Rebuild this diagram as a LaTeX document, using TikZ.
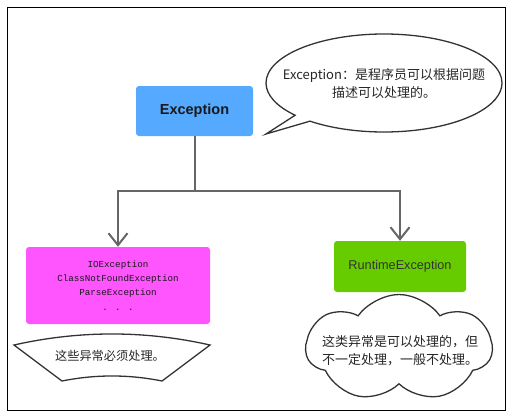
\documentclass[tikz,border=0pt]{standalone}
\usepackage{fontspec}
\setmainfont{Liberation Sans}
\newfontfamily\cjk{Noto Sans CJK SC}
\newfontfamily\monof{Liberation Mono}
\usetikzlibrary{shapes.callouts,shapes.symbols,arrows.meta}
\definecolor{exblue}{HTML}{55AAFF}
\definecolor{iomag}{HTML}{FF55FF}
\definecolor{rtgreen}{HTML}{66CC00}
\definecolor{outline}{HTML}{333333}
\definecolor{conncol}{HTML}{666666}
\begin{document}
\begin{tikzpicture}[x=1pt,y=-1pt,
  frame/.style={draw=black,line width=1pt},
  box/.style={rounded corners=3pt, inner sep=0pt, anchor=center},
  outl/.style={draw=outline, line width=1.3pt},
  conn/.style={draw=conncol, line width=2pt},
  arr/.style={-{Straight Barb[length=12pt,width=19pt,line width=2pt]}},
  cjktext/.style={font=\cjk\fontsize{13}{18}\selectfont, text=black!85}
]
\useasboundingbox (0,0) rectangle (513,416);
\draw[frame] (7,7) rectangle (505,410);

\node[box, fill=exblue, minimum width=117pt, minimum height=50pt,
  font=\bfseries\fontsize{14.5}{16}\selectfont, text=black!90] (ex) at (194.5,111) {Exception};

\node[box, fill=iomag, minimum width=184pt, minimum height=77pt,
  font=\monof\fontsize{9.2}{14.3}\selectfont, text=black!90, align=center] (io) at (118,285.5)
  {IOException\\ClassNotFoundException\\ParseException\\. . .};

\node[box, fill=rtgreen, minimum width=132pt, minimum height=51pt,
  font=\fontsize{12.7}{15}\selectfont, text=black!80] (rt) at (400,266.5) {RuntimeException};

\node[ellipse callout, outl, minimum width=236pt, minimum height=98pt,
  callout absolute pointer={(266,134)}, callout pointer arc=10] (call) at (384,83) {};
\node[cjktext, align=center] (calltxt) at (384,84) {Exception：是程序员可以根据问题\\描述可以处理的。};

\draw[outl] (14,345) .. controls (79,330.3) and (145,330.3) .. (210,345) -- (162,381)
  .. controls (128.7,374.3) and (95.3,374.3) .. (62,381) -- cycle;
\node[font=\cjk\fontsize{12.2}{16}\selectfont, text=black!85] (bantxt) at (110,356) {这些异常必须处理。};

\node[cloud, outl, cloud puffs=7, cloud puff arc=110, aspect=1.74, minimum width=186pt, minimum height=107pt, shape border rotate=10] (cl) at (399,348) {};
\node[cjktext, align=left] (cltxt) at (400,350.5) {这类异常是可以处理的，但\\不一定处理，一般不处理。};

\coordinate (j) at (194.5,191);
\draw[conn] (ex.south) -- (j);
\draw[conn,arr] (j) -| (io.north);
\draw[conn,arr] (j) -| (rt.north);
\end{tikzpicture}
\end{document}
